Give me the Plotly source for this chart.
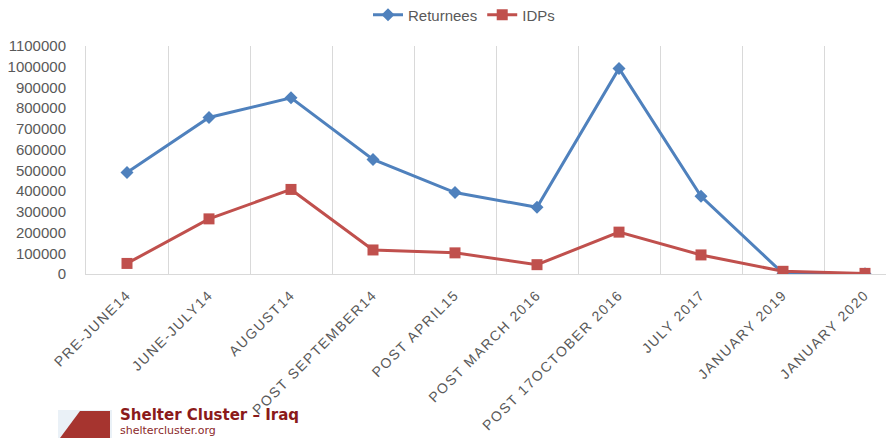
import plotly.graph_objects as go

categories = ["PRE-JUNE14", "JUNE-JULY14", "AUGUST14", "POST SEPTEMBER14", "POST APRIL15",
              "POST MARCH 2016", "POST 17OCTOBER 2016", "JULY 2017", "JANUARY 2019", "JANUARY 2020"]
returnees = [490000, 755000, 850000, 553000, 393000, 322000, 992000, 375000, 3000, 1000]
idps = [51000, 266000, 408000, 116000, 102000, 45000, 202000, 92000, 13000, 3000]
y_ticks = list(range(0, 1100001, 100000))

BLUE = "#4F81BD"
RED = "#C0504D"
GRAY = "#595959"

fig = go.Figure()
fig.add_trace(go.Scatter(x=categories, y=returnees, name="Returnees", mode="lines+markers",
                         line=dict(color=BLUE, width=3),
                         marker=dict(symbol="diamond", size=10, color=BLUE)))
fig.add_trace(go.Scatter(x=categories, y=idps, name="IDPs", mode="lines+markers",
                         line=dict(color=RED, width=3),
                         marker=dict(symbol="square", size=11, color=RED)))

# page body has an 8px margin: the figure starts at (8, 8) in the window
OFF = 8
W, H = 894 - OFF, 439 - OFF
ml, mt, mb = 86 - OFF, 46 - OFF, 165
pw = W - ml
ph = H - mt - mb
band = 82.0


def px(X):
    return (X - 86) / pw


def py(Y):
    return (274 - Y) / ph


fig.update_layout(
    width=W, height=H,
    margin=dict(l=ml, r=0, t=mt, b=mb, pad=0),
    plot_bgcolor="white", paper_bgcolor="white",
    font=dict(family="Liberation Sans, Arial, sans-serif", color=GRAY, size=13),
    legend=dict(orientation="h", x=px(464), xanchor="center",
                y=1 - (15 - OFF) / H, yanchor="middle", yref="container",
                font=dict(size=15, family="Liberation Sans, Arial", color=GRAY),
                itemwidth=30),
    showlegend=True,
)
fig.update_xaxes(
    type="category", range=[-0.5, -0.5 + pw / band],
    tickvals=categories,
    ticktext=['<span style="letter-spacing:1.6px">%s</span>' % c for c in categories],
    tickangle=-45, tickson="boundaries", ticks="", ticklabelstandoff=6,
    showgrid=True, gridcolor="#D9D9D9", gridwidth=1,
    showline=True, linecolor="#D9D9D9", linewidth=1,
    tickfont=dict(size=14, family="Liberation Sans, Arial", color=GRAY),
)
fig.update_yaxes(
    range=[0, 1100000], tickvals=y_ticks, ticktext=[str(v) for v in y_ticks],
    showgrid=False, zeroline=False, showline=True, linecolor="#D9D9D9",
    ticks="", ticklabelstandoff=16,
    tickfont=dict(size=15, family="Liberation Sans, Arial", color=GRAY),
)

# Logo (approximation of the picture)
fig.add_shape(type="rect", xref="paper", yref="paper",
              x0=px(58), x1=px(112), y0=py(438), y1=py(410),
              fillcolor="#EAF1F7", line=dict(width=0), layer="above")
fig.add_shape(type="path", xref="paper", yref="paper",
              path="M {a},{b} L {c},{b} L {c},{d} L {e},{d} Z".format(
                  a=px(60), b=py(438), c=px(110), d=py(411), e=px(80)),
              fillcolor="#A6342F", line=dict(width=0), layer="above")
fig.add_annotation(xref="paper", yref="paper", x=px(118), y=py(415),
                   text="<b>Shelter Cluster – Iraq</b>", showarrow=False, xanchor="left",
                   yanchor="middle", font=dict(family="DejaVu Sans", size=15, color="#8B1A1A"))
fig.add_annotation(xref="paper", yref="paper", x=px(118), y=py(430),
                   text="sheltercluster.org", showarrow=False, xanchor="left",
                   yanchor="middle", font=dict(family="DejaVu Sans", size=11, color="#8B2A2A"))

fig.write_html("out.html")
